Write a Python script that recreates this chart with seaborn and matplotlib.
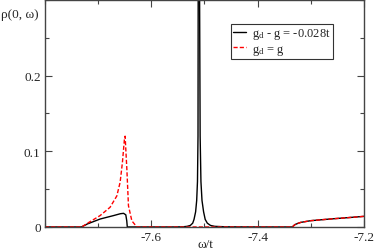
import numpy as np
import pandas as pd
import matplotlib
matplotlib.use("Agg")
import matplotlib.pyplot as plt
import seaborn as sns
from matplotlib.ticker import MultipleLocator

sns.set_style("ticks")
plt.rcParams['font.family'] = ['Liberation Serif', 'DejaVu Serif']
plt.rcParams['mathtext.fontset'] = 'custom'
plt.rcParams['mathtext.rm'] = 'Liberation Serif'
plt.rcParams['mathtext.it'] = 'Liberation Serif'

# black curve: g_d - g = -0.028t
w_black = [-7.80, -7.731, -7.72, -7.696, -7.671, -7.658, -7.652, -7.6478, -7.646, -7.645,
           -7.60, -7.56, -7.5405, -7.5325, -7.5265, -7.522, -7.5195, -7.5165, -7.5145,
           -7.513, -7.512, -7.5105, -7.509, -7.508, -7.5065, -7.5045, -7.5015, -7.4985,
           -7.4945, -7.4885, -7.4805, -7.4605, -7.40, -7.3346, -7.33, -7.325, -7.319,
           -7.30, -7.28, -7.26, -7.23, -7.20]
rho_black = [0.0, 0.0, 0.004, 0.0105, 0.015, 0.0175, 0.018, 0.016, 0.008, 0.0,
             0.0, 0.0, 0.0002, 0.0008, 0.002, 0.005, 0.01, 0.02, 0.035,
             0.06, 0.12, 1.0, 0.30, 0.12, 0.06, 0.035, 0.02, 0.01,
             0.005, 0.002, 0.0008, 0.0002, 0.0, 0.0, 0.003, 0.0045, 0.006,
             0.0083, 0.0095, 0.0107, 0.0123, 0.014]

# red dashed curve: g_d = g
w_red = [-7.80, -7.7308, -7.715, -7.6962, -7.6774, -7.6647, -7.6585, -7.6542, -7.6504,
         -7.6491, -7.6458, -7.6428, -7.6364, -7.627, -7.50, -7.3346, -7.33, -7.325,
         -7.319, -7.30, -7.28, -7.26, -7.23, -7.20]
rho_red = [0.0, 0.0, 0.007, 0.015, 0.026, 0.041, 0.059, 0.085, 0.116,
           0.12, 0.076, 0.028, 0.008, 0.0, 0.0, 0.0, 0.003, 0.0045,
           0.006, 0.0083, 0.0095, 0.0107, 0.0123, 0.014]

labels = [r"g$_{\rm d}$ - g = -0.028t", r"g$_{\rm d}$ = g"]

df = pd.concat([
    pd.DataFrame({'w': w_black, 'rho': rho_black, 'curve': labels[0]}),
    pd.DataFrame({'w': w_red, 'rho': rho_red, 'curve': labels[1]}),
])

fig = plt.figure(figsize=(3.74, 2.53), dpi=100)
ax = fig.add_axes([0.120, 0.099, 0.853, 0.897])

sns.lineplot(data=df, x='w', y='rho', hue='curve', style='curve',
             palette=['black', 'red'], dashes=[(None, None), (3, 1.5)],
             sort=False, estimator=None, linewidth=1.0, ax=ax)

ax.set_xlim(-7.8, -7.2)
ax.set_ylim(0, 0.3)
ax.set_xticks([-7.6, -7.4, -7.2])
ax.set_xticklabels(['-7.6', '-7.4', '-7.2'])
ax.set_yticks([0, 0.1, 0.2])
ax.set_yticklabels(['0', '0.1', '0.2'])
ax.xaxis.set_minor_locator(MultipleLocator(0.1))
ax.yaxis.set_minor_locator(MultipleLocator(0.05))
ax.tick_params(which='both', direction='in', top=True, right=True,
               labelsize=9.5, color='#444444', width=0.8, pad=3)
ax.tick_params(which='major', length=5)
ax.tick_params(which='minor', length=3)
for s in ax.spines.values():
    s.set_color('#444444')
    s.set_linewidth(1.0)
ax.set_xlabel('')
ax.set_ylabel('')

fig.text(0.003, 0.94, 'ρ(0, ω)', fontsize=9.5, ha='left', va='center')
fig.text(0.55, 0.03, 'ω/t', fontsize=9.5, ha='center', va='center')

leg = ax.legend(loc='upper left', bbox_to_anchor=(0.583, 0.895), fontsize=9,
                frameon=True, fancybox=False, handlelength=1.0, handletextpad=0.5,
                borderpad=0.2, labelspacing=0.1, borderaxespad=0)
leg.get_frame().set_edgecolor('black')
leg.get_frame().set_linewidth(0.8)

fig.savefig('out.png', dpi=100)
